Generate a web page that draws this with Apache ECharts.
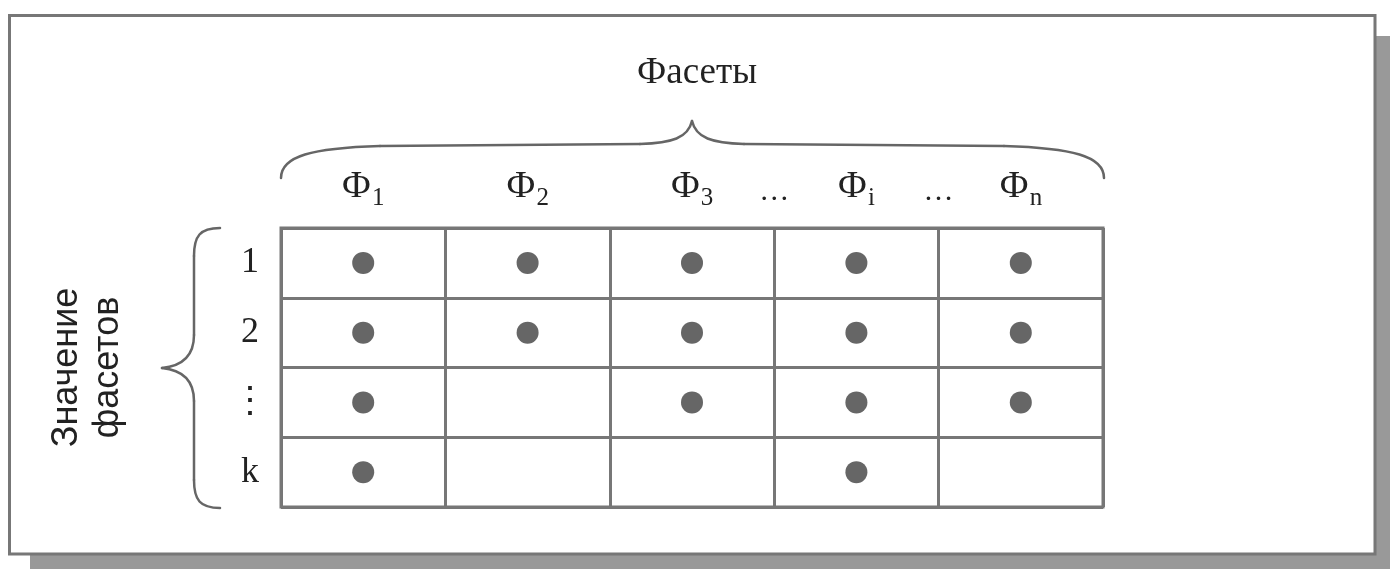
<!DOCTYPE html>
<html>
<head>
<meta charset="utf-8">
<script src="https://cdn.jsdelivr.net/npm/echarts@6/dist/echarts.min.js"></script>
<style>html,body{margin:0;padding:0;background:#fff}#c{width:1390px;height:569px}</style>
</head>
<body>
<div id="c"></div>
<script>
// ---- data ----
const titleText = 'Фасеты';
const facetSubs = ['1', '2', '3', 'i', 'n'];          // Ф_1 ... Ф_n
const valueLabels = ['1', '2', '⋮', 'k'];             // facet values (rows)
const ellipsisTicks = [3, 4];                          // "..." between columns
const axisNameText = 'Значение\nфасетов';
const presence = [
  [1, 1, 1, 1, 1],
  [1, 1, 1, 1, 1],
  [1, 0, 1, 1, 1],
  [1, 0, 0, 1, 0]
];

const points = [];
presence.forEach((row, r) => row.forEach((v, c) => { if (v) points.push([c, r]); }));

const SERIF = "'Liberation Serif', 'Times New Roman', serif";
const SANS = "'Liberation Sans Narrow', 'Liberation Sans', Arial, sans-serif";
const LINE = '#777';
const TXT = '#222';
const BRACE = { fill: null, stroke: '#666', lineWidth: 2.5, lineCap: 'round' };

function bez(p1, c1, c2, p2) {
  return { type: 'bezierCurve', z: 5, silent: true,
    shape: { x1: p1[0], y1: p1[1], cpx1: c1[0], cpy1: c1[1], cpx2: c2[0], cpy2: c2[1], x2: p2[0], y2: p2[1] },
    style: BRACE };
}
function seg(p1, p2) {
  return { type: 'line', z: 5, silent: true,
    shape: { x1: p1[0], y1: p1[1], x2: p2[0], y2: p2[1] }, style: BRACE };
}

const braceTop = [
  bez([281, 178], [281, 156], [312, 148], [380, 146]),
  seg([380, 146], [640, 144]),
  bez([640, 144], [672, 143], [688, 138], [692, 121]),
  bez([692, 121], [696, 138], [712, 143], [744, 144]),
  seg([744, 144], [1004, 146]),
  bez([1004, 146], [1072, 148], [1104, 156], [1104, 178])
];
const braceLeft = [
  bez([220, 228], [200, 228], [194, 236], [194, 256]),
  seg([194, 256], [194, 335]),
  bez([194, 335], [194, 356], [182, 366], [162, 368]),
  bez([162, 368], [182, 370], [194, 380], [194, 401]),
  seg([194, 401], [194, 480]),
  bez([194, 480], [194, 500], [200, 508], [220, 508])
];

const chart = echarts.init(document.getElementById('c'), null, { renderer: 'canvas' });
chart.setOption({
  animation: false,
  backgroundColor: '#fff',
  title: {
    text: titleText, left: 692, top: 50, textAlign: 'center',
    textStyle: { fontFamily: SERIF, fontSize: 37, fontWeight: 'normal', color: TXT }
  },
  grid: { left: 281, top: 228, width: 822, height: 279, show: true, borderColor: LINE, borderWidth: 3, backgroundColor: 'transparent', z: 1 },
  graphic: [
    { type: 'rect', z: -20, silent: true, shape: { x: 30, y: 36, width: 1400, height: 600 }, style: { fill: '#999' } },
    { type: 'rect', z: -10, silent: true, shape: { x: 9.5, y: 15.5, width: 1365.5, height: 538.5 }, style: { fill: '#fff', stroke: LINE, lineWidth: 3 } }
  ].concat(braceTop, braceLeft),
  xAxis: [
    {
      type: 'category', data: facetSubs, position: 'top', boundaryGap: true,
      axisLine: { show: false }, axisTick: { show: false },
      splitLine: { show: true, lineStyle: { color: LINE, width: 3 } },
      axisLabel: {
        margin: 17, interval: 0,
        formatter: s => '{m|Ф}{s|' + s + '}',
        rich: {
          m: { fontFamily: SERIF, fontSize: 37, color: TXT, lineHeight: 42, verticalAlign: 'top' },
          s: { fontFamily: SERIF, fontSize: 25, color: TXT, lineHeight: 42, verticalAlign: 'bottom', padding: [0, 0, 0, 1] }
        }
      }
    },
    {
      type: 'value', min: 0, max: 5, interval: 1, position: 'top',
      axisLine: { show: false }, axisTick: { show: false }, splitLine: { show: false },
      axisLabel: {
        margin: 21, fontFamily: SERIF, fontSize: 30, color: TXT,
        formatter: v => ellipsisTicks.indexOf(v) >= 0 ? '…' : ''
      }
    }
  ],
  yAxis: {
    type: 'category', data: valueLabels, inverse: true, boundaryGap: true,
    axisLine: { show: false }, axisTick: { show: false },
    splitLine: { show: true, lineStyle: { color: LINE, width: 3 } },
    axisLabel: { margin: 31, align: 'center', fontFamily: SERIF, fontSize: 36, color: TXT },
    name: axisNameText, nameLocation: 'middle', nameRotate: 90, nameGap: 152,
    nameTextStyle: { fontFamily: SANS, fontSize: 36, lineHeight: 41, color: TXT, align: 'center' }
  },
  series: [{
    type: 'scatter', xAxisIndex: 0, yAxisIndex: 0, data: points,
    symbol: 'circle', symbolSize: 22, itemStyle: { color: '#666', opacity: 1 }, z: 3
  }]
});
</script>
</body>
</html>
